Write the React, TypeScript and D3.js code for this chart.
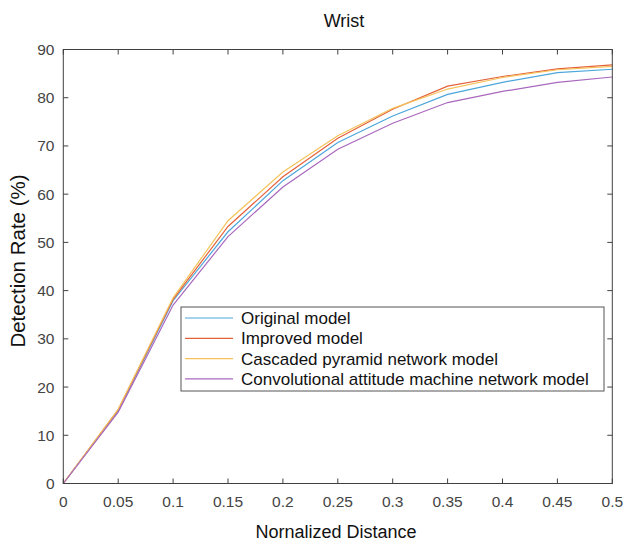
import React from "react";
import * as d3 from "d3";

const xValues = [0, 0.05, 0.1, 0.15, 0.2, 0.25, 0.3, 0.35, 0.4, 0.45, 0.5];
const original = [0, 15.1, 37.9, 52.2, 62.8, 70.7, 76.2, 80.7, 83.2, 85.2, 85.9];
const improved = [0, 15.3, 38.2, 53.3, 63.6, 71.6, 77.6, 82.4, 84.4, 86.0, 86.8];
const cascaded = [0, 15.4, 38.5, 54.5, 64.6, 72.1, 77.8, 81.8, 84.2, 85.8, 86.5];
const convolutional = [0, 14.8, 37.0, 51.2, 61.5, 69.3, 74.7, 79.0, 81.3, 83.2, 84.3];
const seriesNames = [
  "Original model",
  "Improved model",
  "Cascaded pyramid network model",
  "Convolutional attitude machine network model",
];
const seriesColors = ["#4da6db", "#e4623a", "#f5c25a", "#a968bd"];
const xTicks = [0, 0.05, 0.1, 0.15, 0.2, 0.25, 0.3, 0.35, 0.4, 0.45, 0.5];
const yTicks = [0, 10, 20, 30, 40, 50, 60, 70, 80, 90];

export default function App() {
  const W = 625, H = 542;
  const left = 63.3, right = 612.3, top = 49.5, bottom = 483.5;
  const x = d3.scaleLinear().domain([0, 0.5]).range([left, right]);
  const y = d3.scaleLinear().domain([0, 90]).range([bottom, top]);
  const line = d3.line<number>().x((_, i) => x(xValues[i])).y((d) => y(d));
  const all = [original, improved, cascaded, convolutional];
  const font = "'Liberation Sans', Arial, sans-serif";
  const axisColor = "#404040";
  const tickLen = 5;
  const lg = { x: 181, y: 307, w: 423, h: 84 };
  return (
    <svg width={W} height={H} style={{ position: "absolute", left: 0, top: 0, background: "#fff" }} fontFamily={font}>
      <rect x={0} y={0} width={W} height={H} fill="#fff" />
      {all.map((s, i) => (
        <path key={i} d={line(s) || ""} fill="none" stroke={seriesColors[i]} strokeWidth={1.2} />
      ))}
      <rect x={left} y={top} width={right - left} height={bottom - top} fill="none" stroke={axisColor} strokeWidth={1} />
      {xTicks.map((t) => (
        <g key={"x" + t}>
          <line x1={x(t)} x2={x(t)} y1={bottom} y2={bottom - tickLen} stroke={axisColor} />
          <line x1={x(t)} x2={x(t)} y1={top} y2={top + tickLen} stroke={axisColor} />
          <text x={x(t)} y={507} textAnchor="middle" fontSize={15.5} fill="#444">{String(t)}</text>
        </g>
      ))}
      {yTicks.map((t) => (
        <g key={"y" + t}>
          <line x1={left} x2={left + tickLen} y1={y(t)} y2={y(t)} stroke={axisColor} />
          <line x1={right} x2={right - tickLen} y1={y(t)} y2={y(t)} stroke={axisColor} />
          <text x={54.5} y={y(t) + 5.5} textAnchor="end" fontSize={15.5} fill="#444">{String(t)}</text>
        </g>
      ))}
      <text x={344} y={26.5} textAnchor="middle" fontSize={18} fill="#111">Wrist</text>
      <text x={336} y={537.5} textAnchor="middle" fontSize={18} fill="#111">Nornalized Distance</text>
      <text transform={`translate(25,261) rotate(-90)`} textAnchor="middle" fontSize={20.5} fill="#111">Detection Rate (%)</text>
      <rect x={lg.x} y={lg.y} width={lg.w} height={lg.h} fill="#fff" stroke="#555" strokeWidth={1} />
      {seriesNames.map((n, i) => {
        const cy = lg.y + 11 + i * 20.3;
        return (
          <g key={n}>
            <line x1={185} x2={233} y1={cy} y2={cy} stroke={seriesColors[i]} strokeWidth={1.2} />
            <text x={241} y={cy + 6} fontSize={17} fill="#111">{n}</text>
          </g>
        );
      })}
    </svg>
  );
}
